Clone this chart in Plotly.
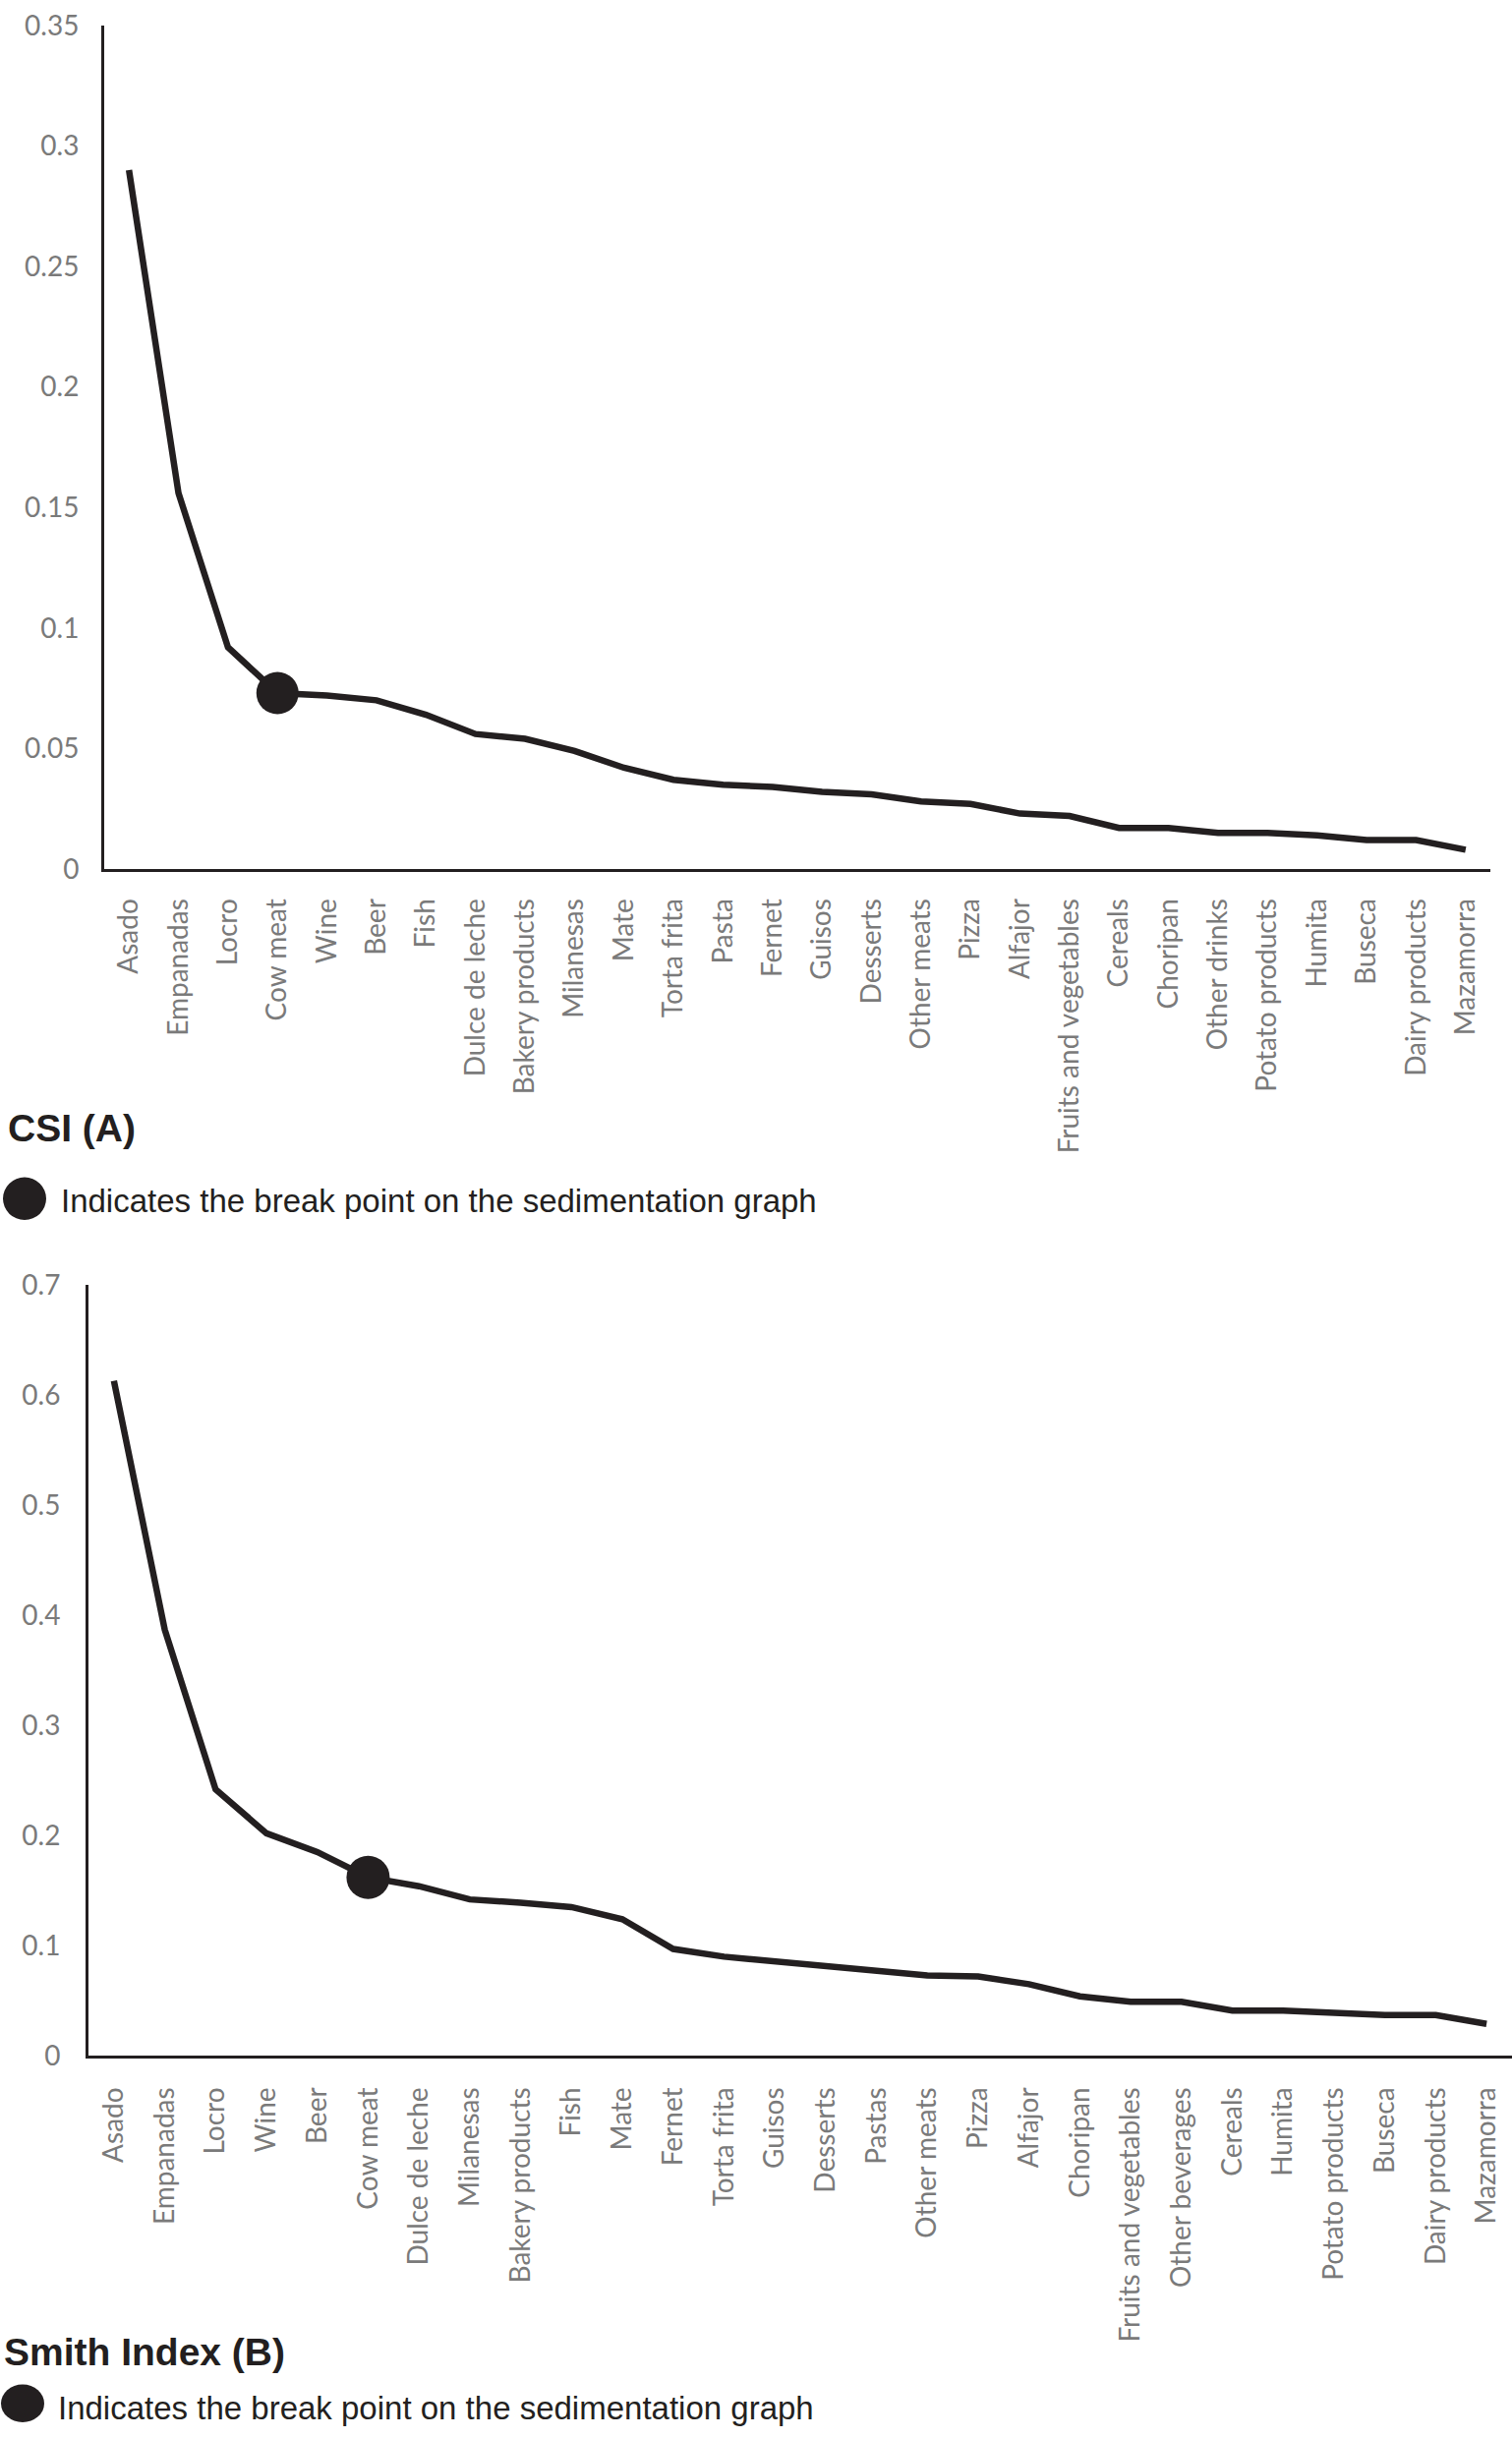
import plotly.graph_objects as go

# ---------------- data ----------------
csi_categories = ["Asado", "Empanadas", "Locro", "Cow meat", "Wine", "Beer", "Fish",
                  "Dulce de leche", "Bakery products", "Milanesas", "Mate", "Torta frita",
                  "Pasta", "Fernet", "Guisos", "Desserts", "Other meats", "Pizza", "Alfajor",
                  "Fruits and vegetables", "Cereals", "Choripan", "Other drinks",
                  "Potato products", "Humita", "Buseca", "Dairy products", "Mazamorra"]
csi_values = [0.290, 0.156, 0.092, 0.073, 0.072, 0.070, 0.064, 0.056, 0.054, 0.049,
              0.042, 0.037, 0.035, 0.034, 0.032, 0.031, 0.028, 0.027, 0.023, 0.022,
              0.017, 0.017, 0.015, 0.015, 0.014, 0.012, 0.012, 0.008]
csi_break = "Cow meat"
csi_tickvals = [0, 0.05, 0.1, 0.15, 0.2, 0.25, 0.3, 0.35]
csi_ticktext = ["0", "0.05", "0.1", "0.15", "0.2", "0.25", "0.3", "0.35"]

smith_categories = ["Asado", "Empanadas", "Locro", "Wine", "Beer", "Cow meat",
                    "Dulce de leche", "Milanesas", "Bakery products", "Fish", "Mate",
                    "Fernet", "Torta frita", "Guisos", "Desserts", "Pastas", "Other meats",
                    "Pizza", "Alfajor", "Choripan", "Fruits and vegetables",
                    "Other beverages", "Cereals", "Humita", "Potato products", "Buseca",
                    "Dairy products", "Mazamorra"]
smith_values = [0.613, 0.387, 0.242, 0.202, 0.185, 0.162, 0.154, 0.142, 0.139, 0.135,
                0.124, 0.097, 0.090, 0.086, 0.081, 0.078, 0.073, 0.072, 0.065, 0.054,
                0.049, 0.049, 0.041, 0.041, 0.039, 0.037, 0.037, 0.029]
smith_break = "Cow meat"
smith_tickvals = [0, 0.1, 0.2, 0.3, 0.4, 0.5, 0.6, 0.7]
smith_ticktext = ["0", "0.1", "0.2", "0.3", "0.4", "0.5", "0.6", "0.7"]

title_a = "CSI (A)"
title_b = "Smith Index (B)"
legend_text = "Indicates the break point on the sedimentation graph"

# ---------------- layout helpers ----------------
FW, FH = 1538, 2480
INK = "#231f20"
GREY = "#7a7a7a"
TICKFONT = dict(family="Lato, 'Open Sans', sans-serif", size=28, color=GREY)
TITLEFONT = dict(family="'Liberation Sans', Arial, sans-serif", size=39, color=INK)
LEGFONT = dict(family="'Liberation Sans', Arial, sans-serif", size=33, color=INK)


def px_x(px):
    return min(1.0, max(0.0, px / FW))


def px_y(py):
    return min(1.0, max(0.0, 1 - py / FH))


fig = go.Figure()

fig.add_trace(go.Scatter(x=csi_categories, y=csi_values, mode="lines",
                         line=dict(color=INK, width=6.5), xaxis="x", yaxis="y"))
fig.add_trace(go.Scatter(x=[csi_break], y=[csi_values[csi_categories.index(csi_break)]],
                         mode="markers", marker=dict(color=INK, size=43),
                         xaxis="x", yaxis="y"))
fig.add_trace(go.Scatter(x=smith_categories, y=smith_values, mode="lines",
                         line=dict(color=INK, width=6.5), xaxis="x2", yaxis="y2"))
fig.add_trace(go.Scatter(x=[smith_break],
                         y=[smith_values[smith_categories.index(smith_break)]],
                         mode="markers", marker=dict(color=INK, size=44),
                         xaxis="x2", yaxis="y2"))

axis_common = dict(showgrid=False, zeroline=False, showline=True, linecolor=INK,
                   linewidth=3, ticks="", tickfont=TICKFONT, fixedrange=True)

fig.update_layout(
    width=FW, height=FH, autosize=False,
    margin=dict(l=0, r=0, t=0, b=0),
    paper_bgcolor="white", plot_bgcolor="white",
    showlegend=False,
    xaxis=dict(domain=[px_x(106), px_x(1516)], anchor="y", type="category",
               categoryorder="array", categoryarray=csi_categories,
               range=[-0.5, len(csi_categories) - 0.5], tickangle=-90,
               ticklabelstandoff=16, **axis_common),
    yaxis=dict(domain=[px_y(878), px_y(8)], anchor="x", range=[0, 0.35],
               tickvals=csi_tickvals, ticktext=csi_ticktext,
               ticklabelstandoff=17, **axis_common),
    xaxis2=dict(domain=[px_x(90), px_x(1538)], anchor="y2", type="category",
                categoryorder="array", categoryarray=smith_categories,
                range=[-0.5, len(smith_categories) - 0.5], tickangle=-90,
                ticklabelstandoff=18, **axis_common),
    yaxis2=dict(domain=[px_y(2102), px_y(1307)], anchor="x2", range=[0, 0.7],
                tickvals=smith_tickvals, ticktext=smith_ticktext,
                ticklabelstandoff=20, **axis_common),
)

fig.add_annotation(text=f"<b>{title_a}</b>", xref="paper", yref="paper",
                   x=px_x(6), y=px_y(1145), xanchor="left", yanchor="middle",
                   showarrow=False, font=TITLEFONT)
fig.add_annotation(text=f"<b>{title_b}</b>", xref="paper", yref="paper",
                   x=px_x(2), y=px_y(2408), xanchor="left", yanchor="middle",
                   showarrow=False, font=TITLEFONT)

for cx, cy, tx in [(25, 1218, 60), (23, 2463, 57)]:
    fig.add_shape(type="circle", xref="paper", yref="paper",
                  x0=px_x(cx - 22), x1=px_x(cx + 22), y0=px_y(cy + 22), y1=px_y(cy - 22),
                  fillcolor=INK, line=dict(width=0))
    fig.add_annotation(text=legend_text, xref="paper", yref="paper",
                       x=px_x(tx), y=px_y(cy + 2), xanchor="left", yanchor="middle",
                       showarrow=False, font=LEGFONT)

fig.write_html("out.html", config={"displayModeBar": False},
               post_script="document.body.style.margin='0';"
                           "document.documentElement.style.overflow='hidden';")
